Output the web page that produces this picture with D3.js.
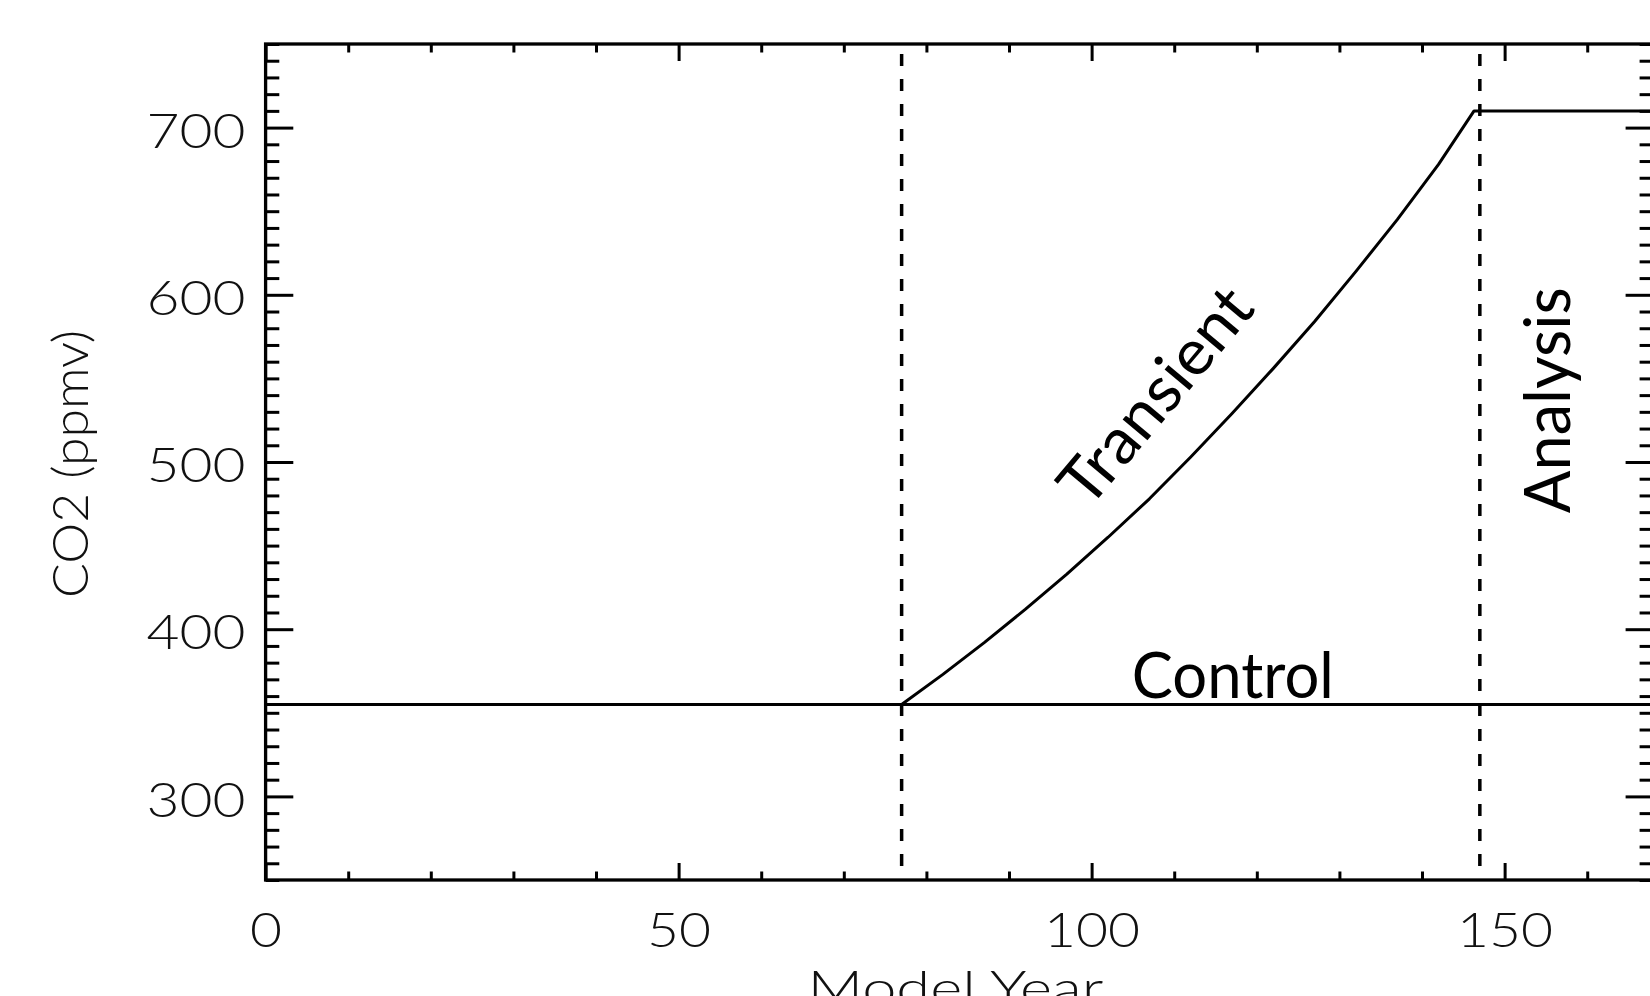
<!DOCTYPE html>
<html>
<head>
<meta charset="utf-8">
<script src="https://cdn.jsdelivr.net/npm/d3@7"></script>
<style>
  body { margin: 0; background: #fff; }
  svg { display: block; }
  .tick-label { font-family: Lato, "DejaVu Sans", sans-serif; font-weight: 300; font-size: 47px; fill: #111; }
  .note { font-family: Lato, "Open Sans", sans-serif; font-weight: 400; font-size: 64px; fill: #000; }
</style>
</head>
<body>
<div class="container_graph"></div>
<script>
// control run: flat CO2
const controlYears = [0, 168];
const controlCO2 = [355, 355];

// transient run: ramp after spin-up, then held at doubled value
const transientYears = [77, 82, 87, 92, 97, 102, 107, 112, 117, 122, 127, 132, 137, 142, 146.3, 168];
const transientCO2 = [355, 373, 392, 412, 433, 455, 478, 503, 529, 556, 584, 614, 645, 678, 710, 710];

// phase boundaries (dashed lines)
const phaseYears = [77, 147];

const xMajorTicks = [0, 50, 100, 150];
const yMajorTicks = [300, 400, 500, 600, 700];

const xLabel = "Model Year";
const yLabel = "CO2 (ppmv)";

document.addEventListener("DOMContentLoaded", () => {
  const W = 1650, H = 996;
  const margin = { top: 44, right: -3.3, bottom: 116, left: 265.6 };
  const width = W - margin.left - margin.right;
  const height = H - margin.top - margin.bottom;

  const svg = d3
    .select(".container_graph")
    .append("svg")
    .attr("width", W)
    .attr("height", H);

  const g = svg.append("g").attr("transform", `translate(${margin.left},${margin.top})`);

  const x = d3.scaleLinear().domain([0, 168]).range([0, width]);
  const y = d3.scaleLinear().domain([250, 750]).range([height, 0]);

  const xMinor = d3.range(0, 169, 10).filter((d) => d % 50 !== 0);
  const yMinor = d3.range(250, 751, 10).filter((d) => d % 100 !== 0);

  // dashed phase lines
  g.selectAll(".phase")
    .data(phaseYears)
    .enter()
    .append("line")
    .attr("class", "phase")
    .attr("x1", (d) => x(d))
    .attr("x2", (d) => x(d))
    .attr("y1", 0)
    .attr("y2", height)
    .attr("stroke", "#000")
    .attr("stroke-width", 3.5)
    .attr("stroke-dasharray", "12,13")
    .attr("stroke-dashoffset", 15);

  const line = d3
    .line()
    .x((d) => x(d.year))
    .y((d) => y(d.co2));

  const control = controlYears.map((yr, i) => ({ year: yr, co2: controlCO2[i] }));
  const transient = transientYears.map((yr, i) => ({ year: yr, co2: transientCO2[i] }));

  g.append("path")
    .datum(control)
    .attr("d", line)
    .attr("fill", "none")
    .attr("stroke", "#000")
    .attr("stroke-width", 3);

  g.append("path")
    .datum(transient)
    .attr("d", line)
    .attr("fill", "none")
    .attr("stroke", "#000")
    .attr("stroke-width", 3)
    .attr("stroke-linejoin", "round");

  // axes
  const tidy = (sel) => {
    sel.select(".domain").remove();
    sel.selectAll(".tick line").attr("stroke", "#000").attr("stroke-width", 3);
  };

  // bottom
  g.append("g")
    .attr("transform", `translate(0,${height})`)
    .call(d3.axisBottom(x).tickValues(xMajorTicks).tickSize(-17).tickPadding(34))
    .call(tidy)
    .call((s) => s.selectAll("text")
      .attr("class", "tick-label")
      .attr("font-size", null)
      .attr("font-family", null)
      .attr("dy", "0.7em")
      .attr("textLength", (d) => String(d).length * 32)
      .attr("lengthAdjust", "spacingAndGlyphs"));
  g.append("g")
    .attr("transform", `translate(0,${height})`)
    .call(d3.axisBottom(x).tickValues(xMinor).tickSize(-8.5).tickFormat(""))
    .call(tidy);

  // top
  g.append("g")
    .call(d3.axisTop(x).tickValues(xMajorTicks).tickSize(-17).tickFormat(""))
    .call(tidy);
  g.append("g")
    .call(d3.axisTop(x).tickValues(xMinor).tickSize(-8.5).tickFormat(""))
    .call(tidy);

  // left
  g.append("g")
    .call(d3.axisLeft(y).tickValues(yMajorTicks).tickSize(-27.7).tickPadding(20))
    .call(tidy)
    .call((s) => s.selectAll("text")
      .attr("class", "tick-label")
      .attr("font-size", null)
      .attr("font-family", null)
      .attr("dy", "0.42em")
      .attr("textLength", (d) => String(d).length * 33)
      .attr("lengthAdjust", "spacingAndGlyphs"));
  g.append("g")
    .call(d3.axisLeft(y).tickValues(yMinor).tickSize(-13.7).tickFormat(""))
    .call(tidy);

  // right
  g.append("g")
    .attr("transform", `translate(${width},0)`)
    .call(d3.axisRight(y).tickValues(yMajorTicks).tickSize(-27.7).tickFormat(""))
    .call(tidy);
  g.append("g")
    .attr("transform", `translate(${width},0)`)
    .call(d3.axisRight(y).tickValues(yMinor).tickSize(-13.7).tickFormat(""))
    .call(tidy);

  // frame
  g.append("rect")
    .attr("width", width)
    .attr("height", height)
    .attr("fill", "none")
    .attr("stroke", "#000")
    .attr("stroke-width", 3.3);

  // axis titles
  svg.append("text")
    .attr("class", "tick-label")
    .attr("x", margin.left + width / 2 - 4)
    .attr("y", 1005)
    .attr("text-anchor", "middle")
    .attr("textLength", 296)
    .attr("lengthAdjust", "spacingAndGlyphs")
    .text(xLabel);

  svg.append("text")
    .attr("class", "tick-label")
    .attr("transform", "translate(88,464) rotate(-90)")
    .attr("text-anchor", "middle")
    .style("font-size", "49px")
    .attr("textLength", 268)
    .attr("lengthAdjust", "spacingAndGlyphs")
    .text(yLabel);

  // phase annotations
  g.append("text")
    .attr("class", "note")
    .attr("x", x(117.1))
    .attr("y", y(359))
    .attr("text-anchor", "middle")
    .attr("textLength", 202)
    .attr("lengthAdjust", "spacingAndGlyphs")
    .text("Control");

  g.append("text")
    .attr("class", "note")
    .attr("transform", `translate(${x(109.8)},${y(531)}) rotate(-50)`)
    .attr("text-anchor", "middle")
    .attr("textLength", 262)
    .attr("lengthAdjust", "spacingAndGlyphs")
    .text("Transient");

  g.append("text")
    .attr("class", "note")
    .attr("transform", `translate(${x(157.9)},${y(537)}) rotate(-90)`)
    .attr("text-anchor", "middle")
    .attr("textLength", 226)
    .attr("lengthAdjust", "spacingAndGlyphs")
    .text("Analysis");
});
</script>
</body>
</html>
